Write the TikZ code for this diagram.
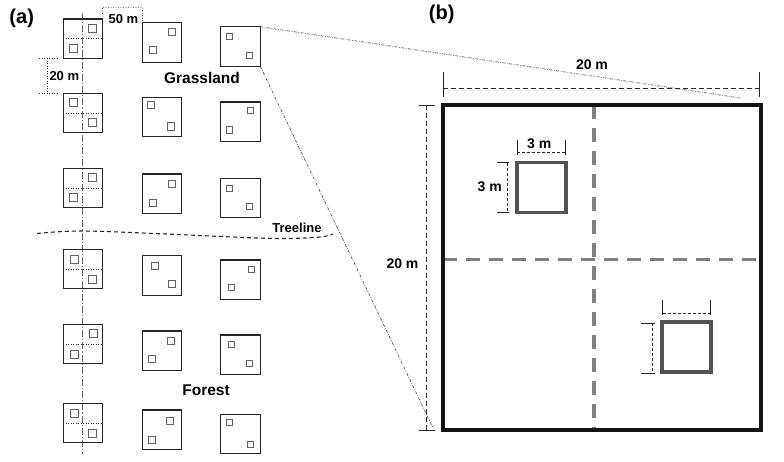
\documentclass[tikz,border=0pt]{standalone}
\usepackage{fontspec}
\setmainfont{Liberation Sans}
\begin{document}
\begin{tikzpicture}[x=1pt,y=-1pt,
  plotbox/.style={draw=black!85, line width=1.1pt, minimum width=39.5pt, minimum height=39.5pt, inner sep=0pt, outer sep=0pt},
  subplot/.style={draw=black!62, line width=1pt, inner sep=0pt, outer sep=0pt},
  bigbox/.style={draw=black!92, line width=3.6pt, minimum width=318pt, minimum height=325pt, inner sep=0pt, outer sep=0pt},
  quadrat/.style={draw=black!68, line width=3.6pt, inner sep=0pt, outer sep=0pt},
  halfline/.style={draw=black!50, line width=3.4pt, dash pattern=on 14pt off 9pt},
  transect/.style={draw=black!60, line width=1.3pt, dash pattern=on 7pt off 2pt on 1.2pt off 2pt},
  zoomline/.style={draw=black!75, line width=0.6pt, dash pattern=on 3pt off 1.5pt on 0.8pt off 1.5pt},
  dotdim/.style={draw=black!85, line width=0.8pt, dash pattern=on 0.9pt off 1.6pt},
  dashdim/.style={draw=black!85, line width=0.8pt, dash pattern=on 5pt off 3pt},
  smalldim/.style={draw=black!85, line width=0.8pt, dash pattern=on 3pt off 2pt},
  tick/.style={draw=black!85, line width=0.9pt},
  treeline/.style={draw=black!85, line width=1.1pt, dash pattern=on 4pt off 3pt},
  lbl/.style={font=\bfseries\fontsize{#1}{#1}\selectfont, inner sep=0pt, anchor=mid},
  lbl/.default=13pt
]
\useasboundingbox (0,0) rectangle (784,462);

% ---------- panel (a) ----------
\coordinate (tt) at (82.5,13);
\coordinate (tb) at (82.5,454);
\draw[transect] (tt) -- (tb);

\foreach \n/\x/\y/\s/\ax/\ay/\bx/\by in {
  a1/63.3/19/8/25.3/5.7/6.3/26,
  a2/63.3/93.3/8/6.3/5.3/25/25.7,
  a3/63.3/168.3/8/25/5.7/6/25,
  a4/63.3/249.3/8/6.7/6.3/25/26.3,
  a5/63.3/324.3/8/25.7/5.3/7/26,
  a6/63.3/403.3/8/6.7/6/25/26.3,
  b1/142.3/22.7/7.3/26/6/7.3/24,
  b2/142.3/97.3/7.3/5.3/4.3/25/25.7,
  b3/142.3/174/7.3/26.3/6.3/7/25.3,
  b4/142.3/255.7/7.3/8.7/6.7/26/24.7,
  b5/142.3/331/7.3/25/6/5.7/24,
  b6/142.3/410/7.3/24.3/7/6/26,
  c1/220.7/26.7/6.2/5.7/6.7/26/25.7,
  c2/220.7/102/6.2/26.7/5.3/5.7/25,
  c3/220.7/178.3/6.2/5.7/7.3/26/25.3,
  c4/220.7/260/6.2/27.3/6.3/8/24.3,
  c5/220.7/335/6.2/7.7/6.3/26/25.7,
  c6/220.7/414.3/6.2/5.7/5.3/26.3/26.7}{
  \node[plotbox] (\n) at (\x+19.75,\y+19.75) {};
  \node[subplot, minimum size=\s*1pt] (\n q1) at (\x+\ax+\s/2,\y+\ay+\s/2) {};
  \node[subplot, minimum size=\s*1pt] (\n q2) at (\x+\bx+\s/2,\y+\by+\s/2) {};
}
\foreach \n in {a1,a2,a3,a4,a5,a6}{
  \draw[dotdim] (\n.west) -- (\n.east);
}

% 50 m dimension
\coordinate (d50a) at (102.3,7.3);
\coordinate (d50b) at (142.7,7.3);
\draw[dotdim] (a1.north east) -- (d50a) -- (d50b) -- (b1.north west);
\node[lbl] (t50) at (123.5,21) {50 m};

% 20 m dimension (left)
\coordinate (d20a) at (39.3,58.3);
\coordinate (d20b) at (39.3,93.3);
\coordinate (d20c) at (58,58.3);
\coordinate (d20d) at (58,93.3);
\coordinate (d20e) at (47.7,58.3);
\coordinate (d20f) at (47.7,93.3);
\draw[dotdim] (d20a) -- (d20c);
\draw[dotdim] (d20b) -- (d20d);
\draw[dotdim] (d20e) -- (d20f);
\node[lbl, anchor=west] (t20a) at (49.3,76) {20 m};

\node[lbl=15.5pt] (grass) at (202,80.5) {Grassland};
\node[lbl=15.5pt] (forest) at (206,393) {Forest};
\node[lbl] (treeT) at (297,229.5) {Treeline};
\draw[treeline] plot[smooth, tension=0.6] coordinates {(37,233.5) (82,231) (166,234) (267,238.3) (317,237.3) (333,234)};

\node[lbl=20pt] (pa) at (21.7,21) {(a)};
\node[lbl=20pt] (pb) at (441.7,17) {(b)};

% ---------- panel (b) ----------
\coordinate (vt) at (594,105);
\coordinate (vb) at (594,430);
\coordinate (hl) at (443,259.5);
\coordinate (hr) at (761,259.5);
\draw[halfline] (vt) -- (vb);
\draw[halfline] (hl) -- (hr);
\node[bigbox] (R) at (602,267.5) {};

\node[quadrat, minimum width=49pt, minimum height=50pt] (S1) at (541.5,187.5) {};
\node[quadrat, minimum width=49pt, minimum height=50pt] (S2) at (686.5,347) {};

% zoom lines
\coordinate (z1) at (740,98);
\coordinate (z2) at (433,428);
\draw[zoomline] (c1.north east) -- (z1);
\draw[zoomline] (c1.south east) -- (z2);

% 20 m top
\coordinate (ta1) at (443.3,71.7); \coordinate (ta2) at (443.3,96.7);
\coordinate (tb1) at (759,71.7);   \coordinate (tb2) at (759,96.7);
\coordinate (tl) at (443.3,88.3);  \coordinate (tr) at (759,88.3);
\draw[tick] (ta1) -- (ta2);
\draw[tick] (tb1) -- (tb2);
\draw[dashdim] (tl) -- (tr);
\node[lbl=14pt] (t20t) at (592,67) {20 m};

% 20 m left
\coordinate (la1) at (419.3,105); \coordinate (la2) at (435.3,105);
\coordinate (lb1) at (419.3,430); \coordinate (lb2) at (435.3,430);
\coordinate (lt) at (426.7,105);  \coordinate (lbm) at (426.7,430);
\draw[tick] (la1) -- (la2);
\draw[tick] (lb1) -- (lb2);
\draw[dashdim] (lt) -- (lbm);
\node[lbl=14pt] (t20l) at (402.5,266) {20 m};

% 3 m (S1 top)
\coordinate (s1a1) at (517.3,140); \coordinate (s1a2) at (517.3,155);
\coordinate (s1b1) at (565,140);   \coordinate (s1b2) at (565,155);
\coordinate (s1l) at (517.3,152.7); \coordinate (s1r) at (565,152.7);
\draw[tick] (s1a1) -- (s1a2);
\draw[tick] (s1b1) -- (s1b2);
\draw[smalldim] (s1l) -- (s1r);
\node[lbl=14pt] (t3t) at (539.3,146) {3 m};

% 3 m (S1 left)
\coordinate (s1c1) at (496.7,162.7); \coordinate (s1c2) at (509.3,162.7);
\coordinate (s1d1) at (496.7,212.7); \coordinate (s1d2) at (509.3,212.7);
\coordinate (s1u) at (507.3,162.7);  \coordinate (s1w) at (507.3,212.7);
\draw[tick] (s1c1) -- (s1c2);
\draw[tick] (s1d1) -- (s1d2);
\draw[smalldim] (s1u) -- (s1w);
\node[lbl=14pt] (t3l) at (489.7,188.5) {3 m};

% S2 dimensions
\coordinate (s2a1) at (662.7,300); \coordinate (s2a2) at (662.7,315);
\coordinate (s2b1) at (710.7,300); \coordinate (s2b2) at (710.7,315);
\coordinate (s2l) at (662.7,313.3); \coordinate (s2r) at (710.7,313.3);
\draw[tick] (s2a1) -- (s2a2);
\draw[tick] (s2b1) -- (s2b2);
\draw[smalldim] (s2l) -- (s2r);
\coordinate (s2c1) at (641,323.3); \coordinate (s2c2) at (655,323.3);
\coordinate (s2d1) at (641,373.3); \coordinate (s2d2) at (655,373.3);
\coordinate (s2u) at (652.3,323.3); \coordinate (s2w) at (652.3,373.3);
\draw[tick] (s2c1) -- (s2c2);
\draw[tick] (s2d1) -- (s2d2);
\draw[smalldim] (s2u) -- (s2w);
\end{tikzpicture}
\end{document}
